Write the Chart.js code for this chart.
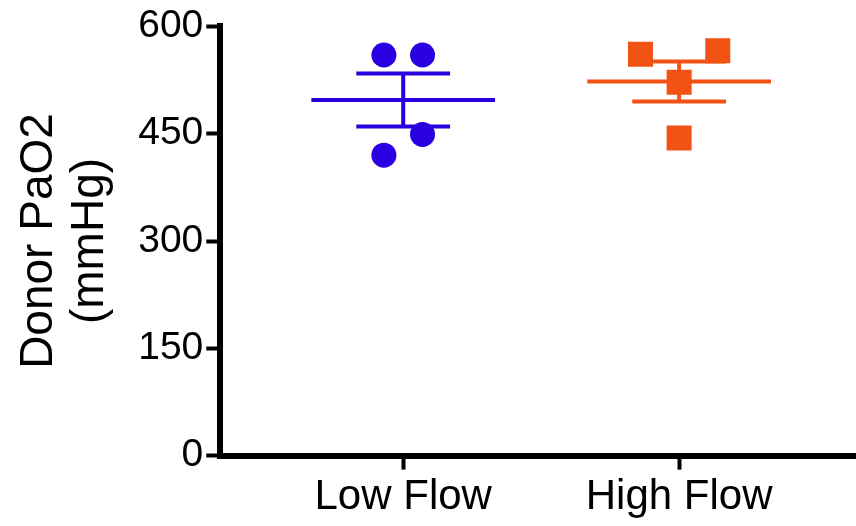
<!DOCTYPE html>
<html>
<head>
<meta charset="utf-8">
<script src="https://cdn.jsdelivr.net/npm/chart.js@4.4.1/dist/chart.umd.min.js"></script>
<style>
  html, body { margin: 0; padding: 0; background: #fff; overflow: hidden; }
  canvas { display: block; }
</style>
</head>
<body>
<canvas id="scatter-chart" width="856" height="526"></canvas>
<script>
// Chart data
var categories = ["Low Flow", "High Flow"];
var lowFlowValues = [560, 560, 449, 420];
var lowFlowX = [0.93, 1.07, 1.07, 0.93];
var highFlowValues = [561, 566, 522, 444];
var highFlowX = [1.86, 2.14, 2, 2];
var means = [497, 523];
var sems = [37, 28];
var yTicks = [0, 150, 300, 450, 600];
var colors = ["#2b00e0", "#f25315"];

function points(xs, ys) {
    return ys.map(function (v, i) { return { x: xs[i], y: v }; });
}

// mean line, SEM whisker and caps for one group, split by null gaps
function errorBars(i) {
    var c = i + 1, m = means[i], s = sems[i];
    return [
        { x: c - 0.333, y: m }, { x: c + 0.333, y: m }, { x: c, y: null },
        { x: c - 0.17, y: m + s }, { x: c + 0.17, y: m + s }, { x: c, y: null },
        { x: c - 0.17, y: m - s }, { x: c + 0.17, y: m - s }, { x: c, y: null },
        { x: c, y: m - s }, { x: c, y: m + s }
    ];
}

var font = "'Liberation Sans', Arial, sans-serif";
var ctx = document.getElementById("scatter-chart");

var chartData = {
    datasets: [
        {
            data: points(lowFlowX, lowFlowValues),
            backgroundColor: colors[0],
            borderColor: colors[0],
            borderWidth: 0,
            pointStyle: "circle",
            pointRadius: 12.5,
            showLine: false
        },
        {
            data: points(highFlowX, highFlowValues),
            backgroundColor: colors[1],
            borderColor: colors[1],
            borderWidth: 0,
            pointStyle: "rect",
            pointRadius: 17.7,
            showLine: false
        },
        {
            data: errorBars(0),
            borderColor: colors[0],
            borderWidth: 4,
            pointRadius: 0,
            showLine: true,
            spanGaps: false
        },
        {
            data: errorBars(1),
            borderColor: colors[1],
            borderWidth: 4,
            pointRadius: 0,
            showLine: true,
            spanGaps: false
        }
    ]
};

var chartOptions = {
    responsive: false,
    animation: false,
    layout: { autoPadding: false, padding: { left: 14, top: 25, right: 0, bottom: 0 } },
    plugins: {
        legend: { display: false },
        tooltip: { enabled: false }
    },
    scales: {
        x: {
            type: "linear",
            min: 0.337,
            max: 2.641,
            afterBuildTicks: function (scale) {
                scale.ticks = categories.map(function (c, i) { return { value: i + 1 }; });
            },
            ticks: {
                autoSkip: false,
                maxRotation: 0,
                padding: 3,
                color: "#000",
                font: { family: font, size: 42 },
                callback: function (v) { return categories[v - 1]; }
            },
            grid: {
                drawOnChartArea: false,
                drawTicks: true,
                tickLength: 14,
                tickWidth: 4,
                tickColor: "#000"
            },
            border: { display: true, width: 6, color: "#000" }
        },
        y: {
            min: 0,
            max: 600,
            afterBuildTicks: function (scale) {
                scale.ticks = yTicks.map(function (v) { return { value: v }; });
            },
            ticks: {
                padding: 3,
                color: "#000",
                font: { family: font, size: 39 }
            },
            grid: {
                drawOnChartArea: false,
                drawTicks: true,
                tickLength: 14,
                tickWidth: 4,
                tickColor: "#000"
            },
            border: { display: true, width: 6, color: "#000" },
            title: {
                display: true,
                text: ["Donor PaO2", "(mmHg)"],
                color: "#000",
                font: { family: font, size: 46, lineHeight: 1.1 },
                padding: { top: 0, bottom: 20 }
            }
        }
    }
};

var config = {
    type: "scatter",
    data: chartData,
    options: chartOptions
};

var dotPlot = new Chart(ctx, config);
</script>
</body>
</html>
